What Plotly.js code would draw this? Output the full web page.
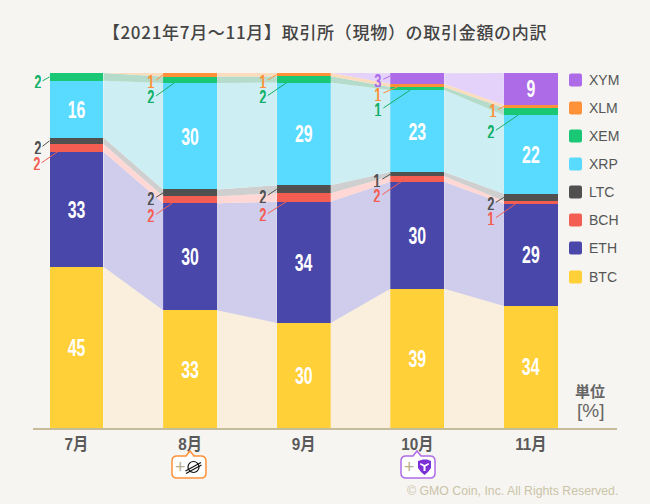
<!DOCTYPE html>
<html><head><meta charset="utf-8">
<script src="https://cdn.plot.ly/plotly-3.0.1.min.js"></script>
<style>html,body{margin:0;padding:0;background:#F6F5F1}#c{width:650px;height:504px}
text.gtitle{letter-spacing:.7px}</style>
</head><body><div id="c"></div>
<script>
const months = ['7月','8月','9月','10月','11月'];
const BTC = [45.4,33.2,29.6,39.2,34.4];
const ETH = [32.4,30.1,34.2,30.2,28.8];
const BCH = [2.2,2.0,2.3,1.5,0.75];
const LTC = [1.8,1.9,2.3,1.2,2.05];
const XRP = [16.0,30.0,28.9,23.1,22.1];
const XEM = [2.2,1.8,1.75,0.85,2.05];
const XLM = [0,1.0,1.0,0.9,0.85];
const XYM = [0,0,0,3.0,9.0];
const labelBTC = [45,33,30,39,34];
const labelETH = [33,30,34,30,29];
const labelBCH = [2,2,2,2,1];
const labelLTC = [2,2,2,1,2];
const labelXRP = [16,30,29,23,22];
const labelXEM = [2,2,2,1,2];
const labelXLM = [0,1,1,1,1];
const labelXYM = [0,0,0,3,9];
const names = ['BTC','ETH','BCH','LTC','XRP','XEM','XLM','XYM'];
const values = [BTC,ETH,BCH,LTC,XRP,XEM,XLM,XYM];
const labels = [labelBTC,labelETH,labelBCH,labelLTC,labelXRP,labelXEM,labelXLM,labelXYM];
const colors = ['#FFD038','#4A47AB','#F45E52','#505050','#59DAFF','#19C775','#FF9138','#AE6BE8'];
const bands  = ['#F9EFDC','#CFCDEB','#FFD8D5','#CFCFCF','#CDEEF3','#B5DCCB','#FBDDBE','#E5D2FB'];
const textColors = ['#000','#000','#F45E52','#505050','#000','#12B066','#FF9138','#AE6BE8'];

const NUM = '"Liberation Sans",sans-serif';
const CJK = '"Liberation Sans","Noto Sans CJK JP",sans-serif';
const halfBar = 0.2375;
const pxPerUnit = 113.6;
const M = {l:33,r:33,t:73,b:76};
const xRange = [-43.5/pxPerUnit, 540.5/pxPerUnit];

const tops = [], bottoms = [];
values.forEach((v,s)=>{
  bottoms.push(v.map((_,m)=> s===0?0:tops[s-1][m]));
  tops.push(v.map((d,m)=>bottoms[s][m]+d));
});

const traces = [];
names.forEach((n,s)=>{
  const x=[],y=[];
  for(let m=0;m<months.length-1;m++){
    const a=m+halfBar,b=m+1-halfBar;
    x.push(a,b,b,a,a,null);
    y.push(tops[s][m],tops[s][m+1],bottoms[s][m+1],bottoms[s][m],tops[s][m],null);
  }
  traces.push({type:'scatter',mode:'none',x,y,fill:'toself',fillcolor:bands[s],hoverinfo:'skip',showlegend:false});
});
names.forEach((n,s)=>{
  traces.push({type:'bar',name:n,x:months.map((_,i)=>i),y:values[s],width:halfBar*2,
    marker:{color:colors[s],line:{width:0}},
    text:labels[s].map(v=>v>=5?String(v):''),textposition:'inside',insidetextanchor:'middle',
    textangle:0,constraintext:'none',
    textfont:{family:NUM,size:24,color:'#fff',weight:700},showlegend:false,hoverinfo:'name+y'});
});

const leaders = [
 [0,5,0,.5,-7,4],[0,3,0,.5,-7,5.5],[0,2,8,0,-16,11],
 [1,6,0,.5,-7,5.5],[1,5,11,0,-18,13],[1,3,0,.5,-7,4.5],[1,2,9,0,-16,11],
 [2,6,0,.5,-9,5.5],[2,5,10,0,-19,13],[2,3,0,.5,-9,6],[2,2,10,0,-19,12],
 [3,7,0,.75,-7,3.5],[3,6,7,0,-14,6],[3,5,20,0,-27,18],[3,3,0,.5,-8,5],[3,2,11,0,-19,13],
 [4,6,0,.5,-6,3],[4,5,14,0,-22,15],[4,3,0,.5,-8,5],[4,2,12,0,-20,14]
];
const shapes=[],annotations=[];
leaders.forEach(([m,s,inset,f,dx,dy])=>{
  const tx=m-halfBar+inset/pxPerUnit;
  const ty=bottoms[s][m]+f*values[s][m];
  shapes.push({type:'line',xref:'x',yref:'y',xsizemode:'pixel',ysizemode:'pixel',
    xanchor:tx,yanchor:ty,x0:dx,x1:0,y0:-dy,y1:0,line:{color:textColors[s],width:1}});
  annotations.push({xref:'x',yref:'y',x:tx,y:ty,xshift:dx-5,yshift:-(dy+1),showarrow:false,
    height:13,borderpad:0,valign:'middle',
    text:String(labels[s][m]),font:{family:NUM,size:21,color:textColors[s],weight:700},xanchor:'center',yanchor:'middle'});
});

const W=650,H=504;
const px=x=>(x-M.l)/(W-M.l-M.r), py=y=>(H-M.b-y)/(H-M.t-M.b);
const rr=(x0,y0,x1,y1,r)=>{
  const X=px,Y=py;
  return `M${X(x0+r)},${Y(y0)}L${X(x1-r)},${Y(y0)}Q${X(x1)},${Y(y0)} ${X(x1)},${Y(y0+r)}L${X(x1)},${Y(y1-r)}Q${X(x1)},${Y(y1)} ${X(x1-r)},${Y(y1)}L${X(x0+r)},${Y(y1)}Q${X(x0)},${Y(y1)} ${X(x0)},${Y(y1-r)}L${X(x0)},${Y(y0+r)}Q${X(x0)},${Y(y0)} ${X(x0+r)},${Y(y0)}Z`;
};
const txt=(x,y,text,size,color,anchor,extra)=>annotations.push({xref:'paper',yref:'paper',x:px(x),y:py(y),text,showarrow:false,
  font:Object.assign({family:CJK,size,color},extra||{}),xanchor:anchor||'center',yanchor:'middle'});

const legendY=[80,108,136,164,192,220,248,277];
const legendOrder=[7,6,5,4,3,2,1,0];
legendOrder.forEach((s,i)=>{
  const y=legendY[i];
  shapes.push({type:'path',xref:'paper',yref:'paper',path:rr(569,y-6.5,582,y+6.5,2),fillcolor:colors[s],line:{width:0}});
  txt(587,y,names[s],14,'#555555','left');
});

txt(590,391,'<b>単位</b>',15,'#666666');
txt(590,410,'[%]',19,'#666666');
txt(620,491,'© GMO Coin, Inc. All Rights Reserved.',12.3,'#CBC4A8','right');

const callout=(x0,x1,tip,color)=>{
  const y0=456,y1=478,r=5;
  const X=px,Y=py;
  const p=`M${X(x0+r)},${Y(y0)}L${X(tip-4)},${Y(y0)}L${X(tip)},${Y(y0-5)}L${X(tip+4)},${Y(y0)}L${X(x1-r)},${Y(y0)}Q${X(x1)},${Y(y0)} ${X(x1)},${Y(y0+r)}L${X(x1)},${Y(y1-r)}Q${X(x1)},${Y(y1)} ${X(x1-r)},${Y(y1)}L${X(x0+r)},${Y(y1)}Q${X(x0)},${Y(y1)} ${X(x0)},${Y(y1-r)}L${X(x0)},${Y(y0+r)}Q${X(x0)},${Y(y0)} ${X(x0+r)},${Y(y0)}Z`;
  shapes.push({type:'path',xref:'paper',yref:'paper',path:p,fillcolor:'#FFFFFF',line:{color,width:1.5}});
  txt(x0+8,467,'+',18,'#B8AF8A');
};
callout(172,206,190,'#FF9138');
callout(401,435,417,'#AE6BE8');
shapes.push({type:'circle',xref:'paper',yref:'paper',x0:px(188),x1:px(199),y0:py(461.5),y1:py(472.5),line:{color:'#111',width:1.2},fillcolor:'rgba(0,0,0,0)'});
[[185.5,471,201,462.5],[186,473.5,201.5,465]].forEach(l=>shapes.push({type:'line',xref:'paper',yref:'paper',x0:px(l[0]),y0:py(l[1]),x1:px(l[2]),y1:py(l[3]),line:{color:'#111',width:1.2}}));
const sp=(pts)=>'M'+pts.map(p=>px(p[0])+','+py(p[1])).join('L')+'Z';
shapes.push({type:'path',xref:'paper',yref:'paper',path:sp([[418,461],[423,459.5],[427,459.5],[431,461],[431,468],[428,472],[424.5,475],[421,472],[418,468]]),fillcolor:'#7B2FD6',line:{width:0}});
shapes.push({type:'path',xref:'paper',yref:'paper',path:sp([[420.5,463],[424.5,465],[428.5,463],[429,464.5],[425.5,466.5],[425.5,471],[423.5,471],[423.5,466.5],[420,464.5]]),fillcolor:'#FFFFFF',line:{width:0}});

const layout={
  width:W,height:H,margin:M,paper_bgcolor:'#F6F5F1',plot_bgcolor:'#F6F5F1',
  barmode:'stack',bargap:0,showlegend:false,
  title:{text:'【2021年7月～11月】取引所（現物）の取引金額の内訳',x:0.5,xanchor:'center',y:1-33/H,yanchor:'middle',
    font:{family:'"Noto Sans CJK JP",sans-serif',size:17,color:'#444444',weight:500}},
  xaxis:{range:xRange,tickvals:months.map((_,i)=>i),ticktext:months.map(m=>'<b>'+m+'</b>'),showgrid:false,zeroline:false,
    showline:true,linecolor:'#C4BC9B',linewidth:2,ticks:'',fixedrange:true,
    tickfont:{family:CJK,size:17,color:'#5A5A5A'}},
  yaxis:{range:[0,100],showgrid:false,zeroline:false,showticklabels:false,ticks:'',showline:false,fixedrange:true},
  shapes,annotations
};
const squeeze=(el,k)=>{
  const b=el.getBBox(),cx=b.x+b.width/2,t=el.getAttribute('transform')||'';
  el.setAttribute('transform',`${t} translate(${cx},0) scale(${k},1) translate(${-cx},0)`);
};
Plotly.newPlot('c',traces,layout,{staticPlot:true,displayModeBar:false}).then(gd=>{
  gd.querySelectorAll('.bartext').forEach(e=>{if(e.textContent)squeeze(e,.66);});
  gd.querySelectorAll('.annotation-text').forEach(e=>{if(/^\d$/.test(e.textContent))squeeze(e,.62);});
  gd.querySelectorAll('.xtick text').forEach(e=>squeeze(e,.9));
});
</script></body></html>
